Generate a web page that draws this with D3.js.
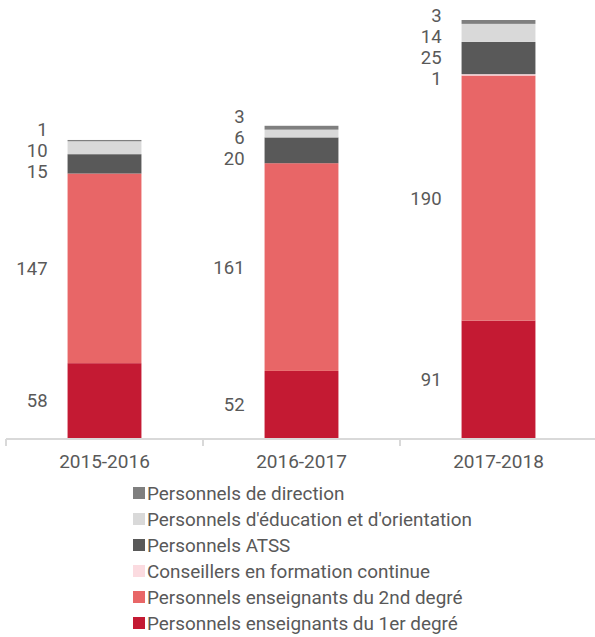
<!DOCTYPE html>
<html>
<head>
<meta charset="utf-8">
<script src="https://cdn.jsdelivr.net/npm/d3@7/dist/d3.min.js"></script>
<style>
  html, body { margin: 0; padding: 0; background: #fff; }
  svg { display: block; font-family: Roboto, "Noto Sans", sans-serif; }
</style>
</head>
<body>
<svg id="chart" width="595" height="637"></svg>
<script>
// School years on the x axis
const years = ["2015-2016", "2016-2017", "2017-2018"];

// Staff categories, stacked bottom to top
const seriesNames = [
  "Personnels enseignants du 1er degré",
  "Personnels enseignants du 2nd degré",
  "Conseillers en formation continue",
  "Personnels ATSS",
  "Personnels d'éducation et d'orientation",
  "Personnels de direction"
];
const seriesColors = ["#c41a33", "#e86667", "#fbdbe0", "#595959", "#d9d9d9", "#7f7f7f"];

// Headcount per category, one value per year
const premierDegre   = [58, 52, 91];
const secondDegre    = [147, 161, 190];
const conseillers    = [0, 0, 1];
const atss           = [15, 20, 25];
const education      = [10, 6, 14];
const direction      = [1, 3, 3];

const seriesValues = [premierDegre, secondDegre, conseillers, atss, education, direction];

const rows = years.map((y, i) => {
  const r = { year: y };
  seriesNames.forEach((n, k) => { r[n] = seriesValues[k][i]; });
  return r;
});

const svg = d3.select("#chart");
const baseY = 438;

const x = d3.scaleBand().domain(years).range([6, 597]).paddingInner(0.625).paddingOuter(0.3125);
const y = d3.scaleLinear().domain([0, 324]).range([baseY, 20]);

const stacked = d3.stack().keys(seriesNames)(rows);

// Bars
svg.append("g").selectAll("g")
  .data(stacked)
  .join("g")
  .attr("fill", (d, i) => seriesColors[i])
  .selectAll("rect")
  .data(d => d)
  .join("rect")
  .attr("x", d => x(d.data.year))
  .attr("width", x.bandwidth())
  .attr("y", d => y(d[1]))
  .attr("height", d => y(d[0]) - y(d[1]));

// Value labels, placed left of each bar, spread apart where they would collide
const minGap = 21;
years.forEach((yr, i) => {
  let items = [];
  stacked.forEach((s, k) => {
    const v = seriesValues[k][i];
    if (v > 0) items.push({ v, target: (y(s[i][0]) + y(s[i][1])) / 2 });
  });
  // sort top to bottom
  items.sort((a, b) => a.target - b.target);
  let clusters = items.map(it => ({ items: [it], center: it.target }));
  const top = c => c.center - (c.items.length - 1) * minGap / 2;
  const bottom = c => c.center + (c.items.length - 1) * minGap / 2;
  let merged = true;
  while (merged) {
    merged = false;
    for (let j = 0; j < clusters.length - 1; j++) {
      const a = clusters[j], b = clusters[j + 1];
      if (top(b) - bottom(a) < minGap) {
        const all = a.items.concat(b.items);
        const c = { items: all, center: d3.mean(all, d => d.target) };
        clusters.splice(j, 2, c);
        merged = true;
        break;
      }
    }
  }
  clusters.forEach(c => {
    c.items.forEach((it, j) => { it.pos = top(c) + j * minGap; });
  });
  svg.append("g").selectAll("text")
    .data(items)
    .join("text")
    .attr("x", x(yr) - 20)
    .attr("y", d => d.pos)
    .attr("dy", "0.35em")
    .attr("text-anchor", "end")
    .attr("fill", "#595959")
    .style("font-size", "18.5px")
    .text(d => d.v);
});

// Category axis
const axis = svg.append("g")
  .attr("transform", `translate(0,${baseY + 1})`)
  .call(d3.axisBottom(x).tickSize(0).tickPadding(16));
axis.select(".domain").attr("stroke", "#d9d9d9").attr("stroke-width", 2).attr("d", "M6,0H597");
axis.selectAll("text").attr("fill", "#595959").style("font-size", "19px").style("font-family", "Roboto, sans-serif");
const boundaries = years.map(d => x(d) - x.step() * x.paddingInner() / 2);
boundaries.push(x(years[years.length - 1]) + x.bandwidth() + x.step() * x.paddingInner() / 2);
axis.selectAll(".sep").data(boundaries).join("line")
  .attr("class", "sep")
  .attr("x1", d => d).attr("x2", d => d)
  .attr("y1", 0).attr("y2", 7)
  .attr("stroke", "#d9d9d9").attr("stroke-width", 2);

// Legend, top entry is the top of the stack
const legendOrder = seriesNames.map((n, k) => ({ name: n, color: seriesColors[k] })).reverse();
const legend = svg.append("g").attr("transform", "translate(133,493)");
const li = legend.selectAll("g").data(legendOrder).join("g")
  .attr("transform", (d, i) => `translate(0,${i * 26})`);
li.append("rect").attr("x", 0).attr("y", -6).attr("width", 12).attr("height", 12).attr("fill", d => d.color);
li.append("text").attr("x", 14).attr("y", 0).attr("dy", "0.35em")
  .attr("fill", "#595959").style("font-size", "18.9px").text(d => d.name);
</script>
</body>
</html>
